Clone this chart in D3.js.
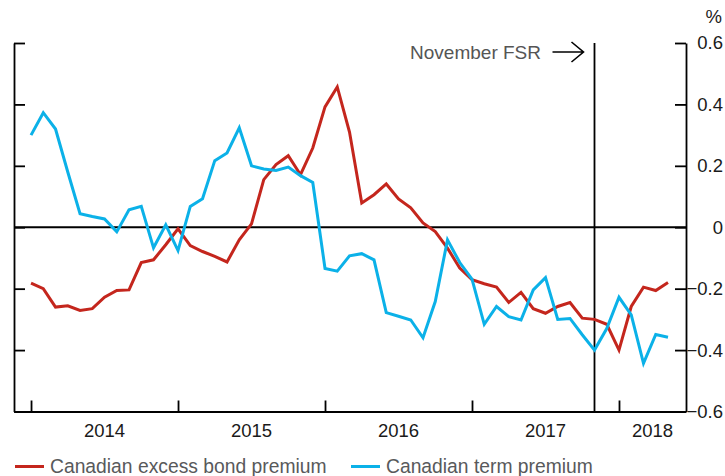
<!DOCTYPE html>
<html>
<head>
<meta charset="utf-8">
<script src="https://cdn.jsdelivr.net/npm/d3@7"></script>
<style>
    body { margin: 0; background: #fff; }
    svg { font-family: "Liberation Sans", Arial, Helvetica, sans-serif; }
    .axis path, .axis line { stroke: #000; stroke-width: 1.8; }
</style>
</head>
<body>
<svg id="chart" width="725" height="476"></svg>
<script>
// monthly observations, Jan 2014 .. May 2018
const startYear = 2014;
const excessBondPremium = [
    -0.182, -0.200, -0.260, -0.256, -0.271, -0.265, -0.228, -0.206, -0.204, -0.115, -0.106, -0.057,
    -0.005, -0.060, -0.079, -0.095, -0.113, -0.041, 0.011, 0.155, 0.204, 0.233, 0.171, 0.258,
    0.392, 0.457, 0.310, 0.079, 0.106, 0.141, 0.092, 0.063, 0.014, -0.014, -0.068, -0.133,
    -0.171, -0.184, -0.195, -0.245, -0.212, -0.265, -0.280, -0.258, -0.245, -0.296, -0.300, -0.316,
    -0.400, -0.258, -0.195, -0.206, -0.180
];
const termPremium = [
    0.300, 0.373, 0.320, 0.180, 0.044, 0.035, 0.027, -0.015, 0.057, 0.068, -0.067, 0.008,
    -0.076, 0.068, 0.093, 0.217, 0.242, 0.324, 0.200, 0.190, 0.185, 0.196, 0.168, 0.146,
    -0.134, -0.143, -0.093, -0.086, -0.106, -0.278, -0.290, -0.302, -0.360, -0.242, -0.041, -0.115,
    -0.169, -0.316, -0.258, -0.291, -0.302, -0.204, -0.164, -0.300, -0.297, -0.350, -0.400, -0.330,
    -0.228, -0.285, -0.443, -0.349, -0.358
];
const yearLabels = ["2014", "2015", "2016", "2017", "2018"];
const yTicks = [-0.6, -0.4, -0.2, 0, 0.2, 0.4, 0.6];
const fsrMonth = 46; // November 2017
const seriesNames = ["Canadian excess bond premium", "Canadian term premium"];
const seriesColors = ["#c4261d", "#0bb1e8"];

const svg = d3.select("#chart");
const plotLeft = 14, plotRight = 686, plotTop = 43, plotBottom = 411.5;

const xScale = d3.scaleLinear()
    .domain([-1.39, 53.47])
    .range([plotLeft, plotRight]);

const yScale = d3.scaleLinear()
    .domain([-0.6, 0.6])
    .range([plotBottom, plotTop]);

// left axis, ticks only
svg.append("g")
    .attr("class", "axis")
    .attr("transform", `translate(${plotLeft},0)`)
    .call(d3.axisRight(yScale).tickValues(yTicks).tickSize(11).tickSizeOuter(0).tickFormat(""))
    .call(g => g.selectAll("text").remove());

// right axis with labels on the outside
svg.append("g")
    .attr("class", "axis")
    .attr("transform", `translate(${plotRight},0)`)
    .call(d3.axisRight(yScale).tickValues(yTicks).tickSize(-11).tickSizeOuter(0)
        .tickFormat(d => d === 0 ? "0" : d3.format(".1f")(d)))
    .call(g => g.selectAll("text")
        .attr("x", 37)
        .attr("text-anchor", "end")
        .attr("font-size", 18.5)
        .attr("fill", "#1a1a1a"));

svg.append("text")
    .attr("x", 722)
    .attr("y", 23)
    .attr("text-anchor", "end")
    .attr("font-size", 18.5)
    .attr("fill", "#1a1a1a")
    .text("%");

// bottom axis: year start ticks
const yearStarts = yearLabels.map((_, i) => i * 12);
svg.append("g")
    .attr("class", "axis")
    .attr("transform", `translate(0,${plotBottom})`)
    .call(d3.axisBottom(xScale).tickValues(yearStarts).tickSize(-11).tickSizeOuter(0).tickFormat(""));

// year labels centred between ticks
const labelPos = yearLabels.map((_, i) => i < yearLabels.length - 1 ? i * 12 + 6 : (i * 12 + xScale.domain()[1]) / 2);
svg.append("g")
    .selectAll("text")
    .data(yearLabels)
    .enter()
    .append("text")
    .attr("x", (d, i) => xScale(labelPos[i]))
    .attr("y", 437)
    .attr("text-anchor", "middle")
    .attr("font-size", 18.5)
    .attr("fill", "#1a1a1a")
    .text(d => d);

// zero line
svg.append("line")
    .attr("x1", plotLeft).attr("x2", plotRight)
    .attr("y1", yScale(0)).attr("y2", yScale(0))
    .attr("stroke", "#000")
    .attr("stroke-width", 2);

// November FSR marker
svg.append("line")
    .attr("x1", xScale(fsrMonth)).attr("x2", xScale(fsrMonth))
    .attr("y1", plotTop).attr("y2", plotBottom)
    .attr("stroke", "#000")
    .attr("stroke-width", 1.8);

svg.append("text")
    .attr("x", 541)
    .attr("y", 59)
    .attr("text-anchor", "end")
    .attr("font-size", 19)
    .attr("fill", "#555")
    .text("November FSR");

const ax = xScale(fsrMonth) - 11;
svg.append("path")
    .attr("d", `M${ax - 31},52 L${ax},52 M${ax - 12},42 L${ax},52 L${ax - 12},62`)
    .attr("fill", "none")
    .attr("stroke", "#000")
    .attr("stroke-width", 1.6);

// series lines
const line = d3.line()
    .x((d, i) => xScale(i))
    .y(d => yScale(d));

[excessBondPremium, termPremium].forEach((series, k) => {
    svg.append("path")
        .datum(series)
        .attr("fill", "none")
        .attr("stroke", seriesColors[k])
        .attr("stroke-width", 3)
        .attr("stroke-linejoin", "miter")
        .attr("d", line);
});

// legend
const legendX = [15, 351];
seriesNames.forEach((name, k) => {
    const g = svg.append("g").attr("transform", `translate(${legendX[k]},466.5)`);
    g.append("line")
        .attr("x1", 0).attr("x2", 29)
        .attr("stroke", seriesColors[k])
        .attr("stroke-width", 3);
    g.append("text")
        .attr("x", 35)
        .attr("y", 6.8)
        .attr("font-size", 19.3)
        .attr("fill", "#58595b")
        .text(name);
});
</script>
</body>
</html>
